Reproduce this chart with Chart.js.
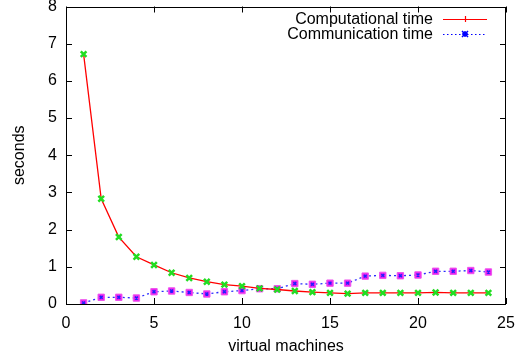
<!DOCTYPE html>
<html>
<head>
<meta charset="utf-8">
<script src="https://cdn.jsdelivr.net/npm/chart.js@4.4.0/dist/chart.umd.min.js"></script>
<style>
  html, body { margin: 0; padding: 0; background: #fff; }
  #wrap { width: 519px; height: 358px; }
</style>
</head>
<body>
<div id="wrap"><canvas id="chart"></canvas></div>
<script>
// data
const machines = [1,2,3,4,5,6,7,8,9,10,11,12,13,14,15,16,17,18,19,20,21,22,23,24];
const compTime = [6.72,2.83,1.80,1.27,1.05,0.84,0.70,0.60,0.52,0.48,0.42,0.39,0.35,0.32,0.30,0.28,0.30,0.30,0.30,0.30,0.31,0.30,0.30,0.30];
const commTime = [0.03,0.18,0.18,0.16,0.33,0.35,0.31,0.27,0.33,0.36,0.41,0.41,0.55,0.53,0.56,0.56,0.75,0.77,0.76,0.78,0.88,0.88,0.90,0.86];
const xTicks = [0,5,10,15,20,25];
const yTicks = [0,1,2,3,4,5,6,7,8];
const seriesNames = ["Computational time", "Communication time"];

const FONT = "'Liberation Sans', Arial, Helvetica, sans-serif";
const FSIZE = 16;

function pts(vals) {
  return machines.map((m, i) => ({x: m, y: vals[i]}));
}

// gnuplot-ish frame, inward ticks and legend
const gnuplotBits = {
  id: 'gnuplotBits',
  afterDraw(chart) {
    const {ctx, chartArea: a, scales} = chart;
    ctx.save();
    ctx.strokeStyle = '#000';
    ctx.lineWidth = 1;
    ctx.strokeRect(Math.round(a.left) + 0.5, Math.round(a.top) + 0.5,
      Math.round(a.right - a.left) - 1, Math.round(a.bottom - a.top) - 1);
    const len = 6;
    ctx.beginPath();
    xTicks.forEach(v => {
      const px = Math.round(scales.x.getPixelForValue(v)) + 0.5;
      ctx.moveTo(px, a.bottom); ctx.lineTo(px, a.bottom - len);
      ctx.moveTo(px, a.top); ctx.lineTo(px, a.top + len);
    });
    yTicks.forEach(v => {
      const py = Math.round(scales.y.getPixelForValue(v)) + 0.5;
      ctx.moveTo(a.left, py); ctx.lineTo(a.left + len, py);
      ctx.moveTo(a.right, py); ctx.lineTo(a.right - len, py);
    });
    ctx.stroke();

    // legend
    ctx.font = FSIZE + 'px ' + FONT;
    ctx.fillStyle = '#000';
    ctx.textAlign = 'right';
    ctx.textBaseline = 'middle';
    const tx = 433, sx0 = 443, sx1 = 487, sm = 465;
    const rows = [19, 34];
    ctx.fillText(seriesNames[0], tx, rows[0] + 1);
    ctx.fillText(seriesNames[1], tx, rows[1] + 1);
    ctx.strokeStyle = '#ff0000';
    ctx.lineWidth = 1.2;
    ctx.beginPath(); ctx.moveTo(sx0, rows[0] + 0.5); ctx.lineTo(sx1, rows[0] + 0.5); ctx.stroke();
    ctx.beginPath();
    ctx.moveTo(sm - 3, rows[0] + 0.5); ctx.lineTo(sm + 3, rows[0] + 0.5);
    ctx.moveTo(sm + 0.5, rows[0] - 3); ctx.lineTo(sm + 0.5, rows[0] + 3);
    ctx.stroke();
    ctx.strokeStyle = '#0000ff';
    ctx.setLineDash([1.5, 2.5]);
    ctx.beginPath(); ctx.moveTo(sx0, rows[1] + 0.5); ctx.lineTo(sx1, rows[1] + 0.5); ctx.stroke();
    ctx.setLineDash([]);
    ctx.lineWidth = 1.5;
    ctx.beginPath();
    ctx.moveTo(sm - 3, rows[1] - 3); ctx.lineTo(sm + 3, rows[1] + 3);
    ctx.moveTo(sm - 3, rows[1] + 3); ctx.lineTo(sm + 3, rows[1] - 3);
    ctx.moveTo(sm - 3, rows[1]); ctx.lineTo(sm + 3, rows[1]);
    ctx.moveTo(sm, rows[1] - 3); ctx.lineTo(sm, rows[1] + 3);
    ctx.stroke();
    ctx.restore();
  }
};

new Chart(document.getElementById('chart'), {
  type: 'line',
  data: {
    datasets: [
      {
        label: seriesNames[1],
        data: pts(commTime),
        borderColor: '#2a2aff',
        borderWidth: 1.3,
        borderDash: [2, 3],
        pointStyle: 'rect',
        pointRadius: 4.5,
        pointBackgroundColor: '#ee22ee',
        pointBorderColor: '#ee55ee',
        pointBorderWidth: 1,
        tension: 0,
        order: 3
      },
      {
        label: 'commMarks',
        data: pts(commTime),
        showLine: false,
        pointStyle: 'crossRot',
        pointRadius: 2,
        pointBorderColor: '#2020ff',
        pointBorderWidth: 1.5,
        order: 2
      },
      {
        label: seriesNames[0],
        data: pts(compTime),
        borderColor: '#ff0000',
        borderWidth: 1.3,
        pointStyle: 'crossRot',
        pointRadius: 4,
        pointBorderColor: '#22dd22',
        pointBorderWidth: 2.5,
        tension: 0,
        order: 1
      }
    ]
  },
  options: {
    responsive: true,
    maintainAspectRatio: false,
    animation: false,
    layout: { padding: { top: 6, right: 13, left: 0, bottom: 0 } },
    plugins: { legend: { display: false }, tooltip: { enabled: false } },
    scales: {
      x: {
        type: 'linear',
        min: 0, max: 25,
        afterBuildTicks: s => { s.ticks = xTicks.map(v => ({value: v})); },
        afterFit: s => { s.height = 54; s.paddingLeft = 0; s.paddingRight = 0; },
        grid: { display: false, drawTicks: false },
        border: { display: false },
        ticks: { color: '#000', font: { family: FONT, size: FSIZE }, padding: 10, maxRotation: 0 },
        title: { display: true, text: 'virtual machines', color: '#000', font: { family: FONT, size: FSIZE }, padding: { top: 0, bottom: 2 } }
      },
      y: {
        type: 'linear',
        min: 0, max: 8,
        afterBuildTicks: s => { s.ticks = yTicks.map(v => ({value: v})); },
        afterFit: s => { s.width = 66; s.paddingTop = 0; s.paddingBottom = 0; },
        grid: { display: false, drawTicks: false },
        border: { display: false },
        ticks: { color: '#000', font: { family: FONT, size: FSIZE }, padding: 9 },
        title: { display: true, text: 'seconds', color: '#000', font: { family: FONT, size: FSIZE }, padding: { top: 10, bottom: 4 } }
      }
    }
  },
  plugins: [gnuplotBits]
});
</script>
</body>
</html>
